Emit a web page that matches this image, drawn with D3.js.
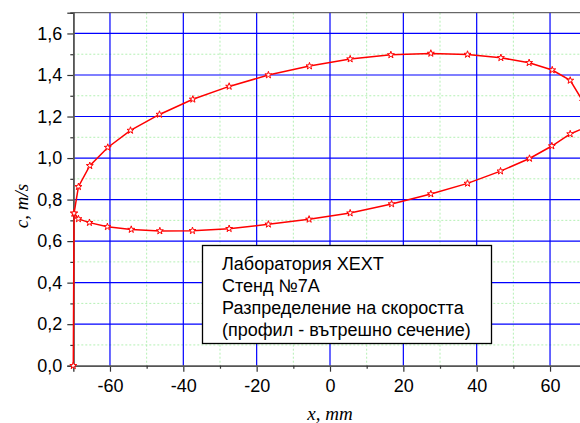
<!DOCTYPE html>
<html>
<head>
<meta charset="utf-8">
<script src="https://cdn.jsdelivr.net/npm/d3@7"></script>
<style>
    body { margin: 0; background: #fff; }
    svg { display: block; overflow: hidden; }
</style>
</head>
<body>
<div id="window"></div>
<script>
// measured profile, x in mm, c in m/s (loop: wall -> upper branch -> lower branch)
let x_mm = [-70, -69.8, -68.6, -65.5, -60.6, -54.4, -46.5, -37.4, -27.5, -16.8, -5.6, 5.5, 16.6, 27.5, 37.5, 46.6, 54.3, 60.6, 65.5, 69.0, 70.5,
    69.3, 65.5, 60.5, 54.4, 46.5, 37.5, 27.5, 16.8, 5.5, -5.7, -16.8, -27.5, -37.5, -46.4, -54.2, -60.7, -65.6, -68.6, -69.8];
let c_ms = [0, 0.734, 0.862, 0.963, 1.051, 1.133, 1.210, 1.283, 1.345, 1.400, 1.443, 1.477, 1.497, 1.504, 1.499, 1.483, 1.459, 1.424, 1.374, 1.272, 1.200,
    1.145, 1.116, 1.058, 0.998, 0.937, 0.878, 0.827, 0.779, 0.735, 0.705, 0.681, 0.660, 0.650, 0.649, 0.656, 0.669, 0.689, 0.707, 0.734];

let x_major = [-60, -40, -20, 0, 20, 40, 60];
let x_minor = [-50, -30, -10, 10, 30, 50, 70];
let y_major = [0, 0.2, 0.4, 0.6, 0.8, 1.0, 1.2, 1.4, 1.6];
let y_minor = [0.1, 0.3, 0.5, 0.7, 0.9, 1.1, 1.3, 1.5];

let legend_lines = ["Лаборатория ХЕХТ", "Стенд №7А", "Разпределение на скоростта", "(профил - вътрешно сечение)"];

let w = 580, h = 423;
let plot_left = 73.3, plot_top = 12.7, plot_right = 586.7, plot_bottom = 365.7;

let svg = d3.select("#window").append("svg")
    .attr("width", w)
    .attr("height", h);

let x = d3.scaleLinear().domain([-70, 70]).range([plot_left, plot_right]);
let y = d3.scaleLinear().domain([0, 1.7]).range([plot_bottom, plot_top]);

// minor grid (light green dashed)
let grid = svg.append("g");
grid.selectAll(".vminor").data(x_minor).enter().append("line")
    .attr("x1", d => x(d)).attr("x2", d => x(d))
    .attr("y1", plot_top).attr("y2", plot_bottom)
    .attr("stroke", "#b4f0b4").attr("stroke-dasharray", "2,2");
grid.selectAll(".hminor").data(y_minor).enter().append("line")
    .attr("x1", plot_left).attr("x2", plot_right)
    .attr("y1", d => y(d)).attr("y2", d => y(d))
    .attr("stroke", "#b4f0b4").attr("stroke-dasharray", "2,2");

// major grid (blue)
grid.selectAll(".vmajor").data(x_major).enter().append("line")
    .attr("x1", d => x(d)).attr("x2", d => x(d))
    .attr("y1", plot_top).attr("y2", plot_bottom)
    .attr("stroke", "#0000ff").attr("stroke-width", 1.2);
grid.selectAll(".hmajor").data(y_major.filter(d => d > 0)).enter().append("line")
    .attr("x1", plot_left).attr("x2", plot_right)
    .attr("y1", d => y(d)).attr("y2", d => y(d))
    .attr("stroke", "#0000ff").attr("stroke-width", 1.2);

// top frame line
svg.append("line")
    .attr("x1", plot_left).attr("x2", plot_right)
    .attr("y1", plot_top).attr("y2", plot_top)
    .attr("stroke", "#444").attr("stroke-width", 1);

// axes
let fmt_y = d => d3.format(".1f")(d).replace(".", ",");
let fmt_x = d => String(d);

let x_axis = svg.append("g").attr("transform", "translate(0," + plot_bottom + ")")
    .call(d3.axisBottom(x).tickValues(x_major).tickSize(6).tickPadding(8).tickFormat(fmt_x));
let x_axis_minor = svg.append("g").attr("transform", "translate(0," + plot_bottom + ")")
    .call(d3.axisBottom(x).tickValues(x_minor).tickSize(3).tickFormat(""));
let y_axis = svg.append("g").attr("transform", "translate(" + plot_left + ",0)")
    .call(d3.axisLeft(y).tickValues(y_major).tickSize(6).tickPadding(5).tickFormat(fmt_y));
let y_axis_minor = svg.append("g").attr("transform", "translate(" + plot_left + ",0)")
    .call(d3.axisLeft(y).tickValues(y_minor.concat([1.7])).tickSize(3).tickFormat(""));

[x_axis, x_axis_minor, y_axis, y_axis_minor].forEach(a => {
    a.select(".domain").attr("stroke", "#555").attr("stroke-width", 1.6);
    a.selectAll(".tick line").attr("stroke", "#333").attr("stroke-width", 1.2);
    a.selectAll("text")
        .attr("fill", "#000")
        .style("font-family", "Liberation Sans, Arial, sans-serif")
        .style("font-size", "18px");
});

// axis titles
svg.append("text")
    .attr("transform", "translate(28," + 206 + ") rotate(-90)")
    .attr("text-anchor", "middle")
    .style("font-family", "Liberation Serif, Times New Roman, serif")
    .style("font-style", "italic")
    .style("font-size", "19px")
    .text("c, m/s");
svg.append("text")
    .attr("x", x(0)).attr("y", 420)
    .attr("text-anchor", "middle")
    .style("font-family", "Liberation Serif, Times New Roman, serif")
    .style("font-style", "italic")
    .style("font-size", "19px")
    .text("x, mm");

// the profile line
let points = x_mm.map((d, i) => [d, c_ms[i]]);
let line = d3.line().x(d => x(d[0])).y(d => y(d[1]));
svg.append("path")
    .datum(points)
    .attr("d", line)
    .attr("fill", "none")
    .attr("stroke", "#ff0000")
    .attr("stroke-width", 1.5);

// star markers
let star = d3.symbol().type(d3.symbolStar).size(15);
svg.selectAll(".marker").data(points).enter().append("path")
    .attr("d", star)
    .attr("transform", d => "translate(" + x(d[0]) + "," + y(d[1]) + ")")
    .attr("fill", "#fff")
    .attr("stroke", "#ff0000")
    .attr("stroke-width", 1);

// legend box
let legend = svg.append("g");
legend.append("rect")
    .attr("x", 202.5).attr("y", 245.5)
    .attr("width", 289).attr("height", 98)
    .attr("fill", "#fff")
    .attr("stroke", "#000")
    .attr("stroke-width", 1.3);
legend.selectAll(".legend_text").data(legend_lines).enter().append("text")
    .attr("x", 222)
    .attr("y", (d, i) => 269.5 + i * 22)
    .style("font-family", "Liberation Sans, Arial, sans-serif")
    .style("font-size", "18px")
    .attr("fill", "#000")
    .text(d => d);
</script>
</body>
</html>
